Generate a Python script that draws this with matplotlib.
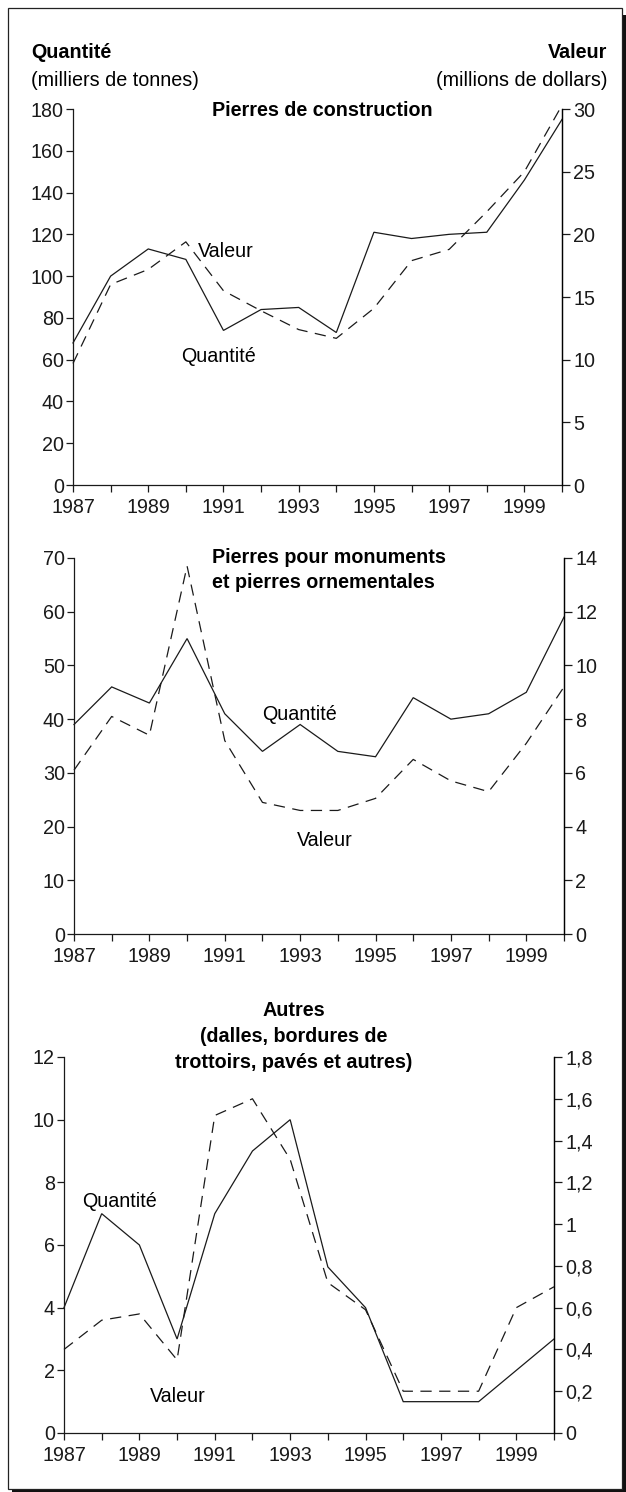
import matplotlib
matplotlib.use("Agg")
import matplotlib.pyplot as plt
from matplotlib.patches import Rectangle

# years
years = list(range(1987, 2001))
year_labels = [str(y) if y % 2 == 1 else "" for y in years]

# Pierres de construction
constr_qty = [68, 100, 113, 108, 74, 84, 85, 73, 121, 118, 120, 121, 146, 175]
constr_val = [9.7, 16.0, 17.2, 19.4, 15.5, 13.9, 12.4, 11.7, 14.1, 17.9, 18.8, 21.8, 25.0, 30.3]

# Pierres pour monuments et pierres ornementales
monu_qty = [39, 46, 43, 55, 41, 34, 39, 34, 33, 44, 40, 41, 45, 59]
monu_val = [6.1, 8.1, 7.4, 13.7, 7.2, 4.9, 4.6, 4.6, 5.05, 6.5, 5.7, 5.3, 7.1, 9.2]

# Autres
autres_qty = [4, 7, 6, 3, 7, 9, 10, 5.3, 4, 1, 1, 1, 2, 3]
autres_val = [0.40, 0.54, 0.57, 0.35, 1.52, 1.60, 1.31, 0.72, 0.59, 0.20, 0.20, 0.20, 0.60, 0.70]

W, H = 626, 1492
FONT = ["Liberation Sans", "DejaVu Sans"]
plt.rcParams["font.family"] = FONT
plt.rcParams["font.size"] = 14.2
INK = "#1a1a1a"


def px_box(left, right, top, bottom):
    return [left / W, 1 - bottom / H, (right - left) / W, (bottom - top) / H]


def panel(fig, box, qty, val, ylim_l, yticks_l, ylim_r, yticks_r, rlabels):
    ax = fig.add_axes(box)
    ax.plot(years, qty, color=INK, lw=0.9, solid_joinstyle="miter", clip_on=False)
    ax.set_xlim(1987, 2000)
    ax.set_ylim(*ylim_l)
    ax.set_yticks(yticks_l)
    ax.set_xticks(years)
    ax.set_xticklabels(year_labels)
    ax.spines["top"].set_visible(False)
    for s in ["left", "bottom", "right"]:
        ax.spines[s].set_linewidth(0.9)
        ax.spines[s].set_color(INK)
    ax.tick_params(direction="out", length=5, width=0.9, colors=INK)
    ax.tick_params(axis="x", pad=4.5)
    ax.tick_params(axis="y", pad=1.5)

    ax2 = ax.twinx()
    ax2.plot(years, val, color=INK, lw=0.9, dashes=(9, 6), clip_on=False)
    ax2.set_ylim(*ylim_r)
    ax2.set_yticks(yticks_r)
    ax2.set_yticklabels(rlabels)
    for s in ["top", "left", "bottom"]:
        ax2.spines[s].set_visible(False)
    ax2.spines["right"].set_linewidth(0.9)
    ax2.tick_params(direction="out", length=5.5, width=0.9, pad=2.5, colors=INK)
    return ax, ax2


fig = plt.figure(figsize=(W / 100, H / 100), dpi=100)

# panel 1
ax, ax2 = panel(fig, px_box(73, 562, 109, 485), constr_qty, constr_val,
                (0, 180), range(0, 181, 20), (0, 30), range(0, 31, 5),
                [str(v) for v in range(0, 31, 5)])
ax.text(1990.32, 111.7, "Valeur", ha="left", va="center")
ax.text(1990.88, 61.6, "Quantité", ha="center", va="center")

fig.text(31 / W, 1 - 53 / H, "Quantité", ha="left", va="center", fontweight="bold")
fig.text(31 / W, 1 - 80 / H, "(milliers de tonnes)", ha="left", va="center")
fig.text(607 / W, 1 - 53 / H, "Valeur", ha="right", va="center", fontweight="bold")
fig.text(607 / W, 1 - 80 / H, "(millions de dollars)", ha="right", va="center")
fig.text(322 / W, 1 - 110 / H, "Pierres de construction", ha="center", va="center",
         fontweight="bold")

# panel 2
ax, ax2 = panel(fig, px_box(74, 564, 558, 934), monu_qty, monu_val,
                (0, 70), range(0, 71, 10), (0, 14), range(0, 15, 2),
                [str(v) for v in range(0, 15, 2)])
ax.text(1992.97, 40.9, "Quantité", ha="center", va="center")
ax.text(1993.66, 17.5, "Valeur", ha="center", va="center")
fig.text(212 / W, 1 - 557 / H, "Pierres pour monuments", ha="left", va="center",
         fontweight="bold")
fig.text(212 / W, 1 - 583 / H, "et pierres ornementales", ha="left", va="center",
         fontweight="bold")

# panel 3
r3 = [0, 0.2, 0.4, 0.6, 0.8, 1.0, 1.2, 1.4, 1.6, 1.8]
r3_labels = ["0", "0,2", "0,4", "0,6", "0,8", "1", "1,2", "1,4", "1,6", "1,8"]
ax, ax2 = panel(fig, px_box(64, 554, 1057, 1433), autres_qty, autres_val,
                (0, 12), range(0, 13, 2), (0, 1.8), r3, r3_labels)
ax.text(1988.46, 7.39, "Quantité", ha="center", va="center")
ax.text(1990.02, 1.15, "Valeur", ha="center", va="center")
for yy, line in zip([1010, 1036, 1062],
                    ["Autres", "(dalles, bordures de", "trottoirs, pavés et autres)"]):
    fig.text(294 / W, 1 - yy / H, line, ha="center", va="center", fontweight="bold")

# frame with drop shadow
fig.patches.append(Rectangle((12 / W, 0), 614 / W, 1 - 15 / H, transform=fig.transFigure,
                             facecolor="#111111", edgecolor="none", zorder=-2))
fig.patches.append(Rectangle((8 / W, 1 - 1489 / H), 614 / W, 1481 / H,
                             transform=fig.transFigure, facecolor="white",
                             edgecolor="#222222", lw=0.9, zorder=-1))

fig.savefig("out.png", dpi=100, facecolor="white")
